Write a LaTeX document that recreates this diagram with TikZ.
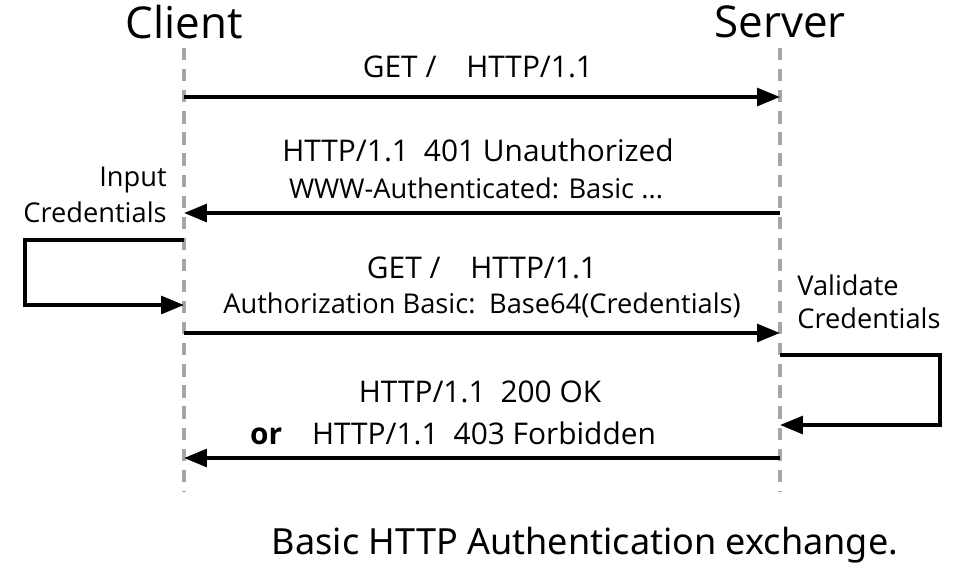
\documentclass[tikz,border=0pt]{standalone}
\usepackage{fontspec}
\setmainfont{Open Sans}
\usetikzlibrary{positioning,arrows.meta}

\begin{document}
\begin{tikzpicture} [x=0.02cm,y=-0.02cm,
	msg/.style={draw=none,font=\fontsize{17}{20}\selectfont,inner sep=0pt},
	title/.style={font=\fontsize{25}{30}\selectfont,inner sep=0pt},
	life/.style={draw=black!35,line width=2pt,dash pattern=on 7pt off 5pt},
	arr/.style={draw,line width=2.2pt,-{Triangle[length=13pt,width=10pt]}}]
\useasboundingbox (0,0) rectangle (977,566);

% lifelines
\node[title] (client) at (184,22) {Client};
\node[title] (server) at (780,22) {Server};
\coordinate (c0) at (184,48); \coordinate (c1) at (184,492);
\coordinate (s0) at (780,48); \coordinate (s1) at (780,492);
\draw[life] (c0)--(c1);
\draw[life] (s0)--(s1);

% request 1
\coordinate (a1) at (184,97); \coordinate (b1) at (780,97);
\draw[arr] (a1)--(b1);
\node[msg] (m1) at (478,67) {GET /\quad HTTP/1.1};

% response 401
\coordinate (a2) at (780,213); \coordinate (b2) at (184,213);
\draw[arr] (a2)--(b2);
\node[msg] (m2) at (478,150) {HTTP/1.1\enspace 401 Unauthorized};
\node[msg,font=\fontsize{15.5}{18}\selectfont] (m2b) at (476,188) {WWW-Authenticated: Basic ...};

% input credentials
\coordinate (l0) at (184,240); \coordinate (l1) at (25,240);
\coordinate (l2) at (25,305); \coordinate (l3) at (184,305);
\draw[arr] (l0)--(l1)--(l2)--(l3);
\node[msg,anchor=east,font=\fontsize{15.5}{18}\selectfont] (in1) at (167,180) {Input};
\node[msg,anchor=east,font=\fontsize{15.5}{18}\selectfont] (in2) at (167,212) {Credentials};

% request 2
\coordinate (a3) at (184,333); \coordinate (b3) at (780,333);
\draw[arr] (a3)--(b3);
\node[msg] (m3) at (482,268) {GET /\quad HTTP/1.1};
\node[msg,font=\fontsize{15.5}{18}\selectfont] (m3b) at (482,305) {Authorization Basic:\enspace Base64(Credentials)};

% validate credentials
\coordinate (r0) at (780,355); \coordinate (r1) at (940,355);
\coordinate (r2) at (940,425); \coordinate (r3) at (780,425);
\draw[arr] (r0)--(r1)--(r2)--(r3);
\node[msg,anchor=west,font=\fontsize{15.5}{18}\selectfont] (v1) at (797,285) {Validate};
\node[msg,anchor=west,font=\fontsize{15.5}{18}\selectfont] (v2) at (797,318) {Credentials};

% response 200/403
\coordinate (a4) at (780,458); \coordinate (b4) at (184,458);
\draw[arr] (a4)--(b4);
\node[msg] (m4) at (480,392) {HTTP/1.1\enspace 200 OK};
\node[msg] (m4b) at (453,433) {\textbf{or}\quad HTTP/1.1\enspace 403 Forbidden};

\node[font=\fontsize{20.5}{24}\selectfont\fontspec{Noto Sans},inner sep=0pt] (cap) at (585,545) {Basic HTTP Authentication exchange.};
\end{tikzpicture}
\end{document}
